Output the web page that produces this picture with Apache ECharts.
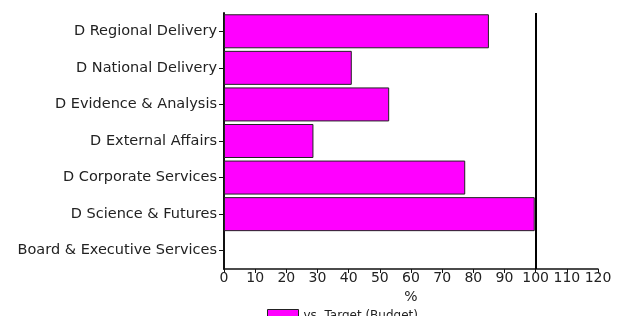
<!DOCTYPE html>
<html>
<head>
<meta charset="utf-8">
<script src="https://cdn.jsdelivr.net/npm/echarts@6/dist/echarts.min.js"></script>
<style>html,body{margin:0;padding:0;background:#fff;}#c{width:623px;height:316px;}</style>
</head>
<body>
<div id="c"></div>
<script>
var categories = ["D Regional Delivery", "D National Delivery", "D Evidence & Analysis", "D External Affairs", "D Corporate Services", "D Science & Futures", "Board & Executive Services"];
var values = [85, 41, 53, 28.7, 77.4, 99.7, null];
var seriesName = "vs. Target (Budget)";
var targetLine = 100;
var xMin = 0, xMax = 120, xInterval = 10;
var axisName = "%";

var font = "DejaVu Sans";
var chart = echarts.init(document.getElementById('c'), null, {renderer: 'canvas'});
chart.setOption({
  animation: false,
  backgroundColor: '#ffffff',
  grid: {left: 224, right: 25, top: 13, bottom: 47, containLabel: false},
  legend: {
    data: [seriesName], left: 267, top: 309, padding: 0, itemWidth: 31, itemHeight: 12, itemGap: 8,
    textStyle: {fontFamily: font, fontSize: 12, color: '#222'},
    icon: 'rect',
    itemStyle: {color: '#ff00ff', borderColor: '#222', borderWidth: 1}
  },
  xAxis: {
    type: 'value', min: xMin, max: xMax, interval: xInterval,
    name: axisName, nameLocation: 'middle', nameGap: 20,
    nameTextStyle: {fontFamily: font, fontSize: 14, color: '#222'},
    axisLine: {show: true, lineStyle: {color: '#111', width: 1.5}},
    axisTick: {show: true, length: 4, lineStyle: {color: '#111'}},
    axisLabel: {fontFamily: font, fontSize: 14, color: '#222', margin: 2},
    splitLine: {show: false}
  },
  yAxis: {
    type: 'category', data: categories, inverse: true,
    axisLine: {show: true, lineStyle: {color: '#111', width: 2}},
    axisTick: {show: true, alignWithLabel: true, length: 5, lineStyle: {color: '#111'}},
    axisLabel: {fontFamily: font, fontSize: 14.5, color: '#222', margin: 7}
  },
  series: [{
    name: seriesName, type: 'bar', data: values, barCategoryGap: '7%',
    itemStyle: {color: '#ff00ff', borderColor: '#222', borderWidth: 1},
    markLine: {
      silent: true, symbol: 'none',
      label: {show: false},
      lineStyle: {color: '#000', width: 2, type: 'solid'},
      data: [{xAxis: targetLine}]
    }
  }]
});
</script>
</body>
</html>
